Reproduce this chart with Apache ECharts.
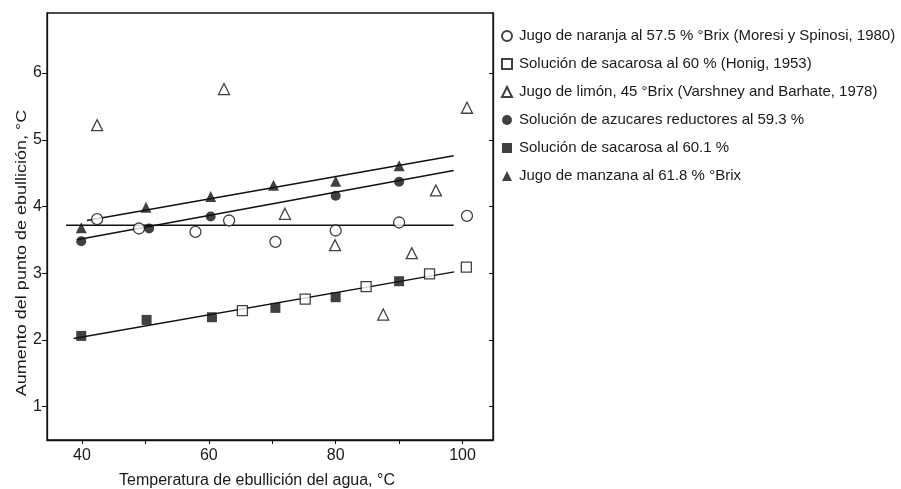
<!DOCTYPE html>
<html>
<head>
<meta charset="utf-8">
<script src="https://cdn.jsdelivr.net/npm/echarts@6/dist/echarts.min.js"></script>
<style>
html,body{margin:0;padding:0;background:#fff;}
#chart{width:901px;height:489px;}
</style>
</head>
<body>
<div id="chart"></div>
<script>
// ---- data ----
const seriesNames = [
  'Jugo de naranja al 57.5 % °Brix (Moresi y Spinosi, 1980)',
  'Solución de sacarosa al 60 % (Honig, 1953)',
  'Jugo de limón, 45 °Brix (Varshney and Barhate, 1978)',
  'Solución de azucares reductores al 59.3 %',
  'Solución de sacarosa al 60.1 %',
  'Jugo de manzana al 61.8 % °Brix'
];
const naranja = [[42.4,3.81],[49,3.67],[57.9,3.62],[63.2,3.79],[70.5,3.47],[80,3.64],[90,3.76],[100.7,3.86]];
const sacarosaHonig = [[65.3,2.44],[75.2,2.61],[84.8,2.80],[94.8,2.99],[100.6,3.09]];
const limon = [[42.4,5.22],[62.4,5.76],[72,3.89],[79.9,3.42],[87.5,2.38],[92,3.30],[95.8,4.24],[100.7,5.48]];
const reductores = [[39.9,3.48],[50.6,3.67],[60.3,3.85],[80,4.16],[90,4.37]];
const sacarosa601 = [[39.9,2.06],[50.2,2.30],[60.5,2.34],[70.5,2.48],[80,2.64],[90,2.88]];
const manzana = [[39.9,3.68],[50.1,3.99],[60.3,4.15],[70.2,4.32],[80,4.38],[90,4.61]];
// fitted lines (end points)
const lineNaranja = [[37.5,3.72],[98.6,3.72]];
const lineReductores = [[39.2,3.50],[98.6,4.54]];
const lineSacarosa = [[38.7,2.02],[98.7,3.02]];
const lineManzana = [[40.8,3.79],[98.6,4.76]];
// ticks
const xTickLabels = [40,60,80,100];
const xTicks = [40,50,60,70,80,90,100];
const yTicks = [1,2,3,4,5,6];

const FONT = 'Liberation Sans, Arial, sans-serif';
const chart = echarts.init(document.getElementById('chart'));

const open = {color:'#ffffff', borderColor:'#111', borderWidth:1.3};
const filled = {color:'#111', borderColor:'#111', borderWidth:0};

function scatter(name, data, symbol, style, size){
  return {type:'scatter', name:name, data:data, symbol:symbol, symbolSize:size,
          itemStyle:style, z:5, silent:true};
}
function fit(data){
  return {type:'line', data:data, showSymbol:false, symbol:'none', silent:true,
          lineStyle:{color:'#111', width:1.5}, z:3};
}

chart.setOption({
  animation:false,
  backgroundColor:'#ffffff',
  grid:{left:47, top:13, width:446, height:427, show:true, borderColor:'#111', borderWidth:1.3, backgroundColor:'transparent'},
  legend:{
    orient:'vertical', left:496, top:23, itemWidth:10, itemHeight:10, itemGap:12,
    selectedMode:false,
    textStyle:{fontFamily:FONT, fontSize:15, color:'#1a1a1a', lineHeight:16, padding:[0,0,0,2]},
    data: seriesNames.map((n,i)=>({name:n, icon:['circle','rect','triangle','circle','rect','triangle'][i]}))
  },
  xAxis:{
    type:'value', min:34.5, max:104.8,
    splitLine:{show:false},
    axisLine:{lineStyle:{color:'#111', width:1.3}},
    axisTick:{show:true, customValues:xTicks, length:4, lineStyle:{color:'#111'}},
    axisLabel:{customValues:xTickLabels, fontFamily:FONT, fontSize:16, color:'#1a1a1a', margin:8}
  },
  yAxis:[{
    type:'value', min:0.5, max:6.9,
    splitLine:{show:false},
    axisLine:{show:true, lineStyle:{color:'#111', width:1.3}},
    axisTick:{show:true, customValues:yTicks, length:5, lineStyle:{color:'#111'}},
    axisLabel:{customValues:yTicks, fontFamily:FONT, fontSize:16, color:'#1a1a1a', margin:5}
  },{
    type:'value', min:0.5, max:6.9, position:'right',
    splitLine:{show:false},
    axisLine:{show:true, lineStyle:{color:'#111', width:1.3}},
    axisTick:{show:true, inside:true, customValues:yTicks, length:4, lineStyle:{color:'#111'}},
    axisLabel:{show:false}
  }],
  graphic:[
    {type:'text', x:257, y:481, style:{text:'Temperatura de ebullición del agua, °C', font:'16px '+FONT, fill:'#1a1a1a', textAlign:'center', textVerticalAlign:'middle'}, silent:true},
    {type:'text', x:22, y:253, rotation:Math.PI/2, scaleX:1.2, style:{text:'Aumento del punto de ebullición, °C', font:'15px '+FONT, fill:'#1a1a1a', textAlign:'center', textVerticalAlign:'middle'}, silent:true}
  ],
  series:[
    fit(lineNaranja), fit(lineReductores), fit(lineSacarosa), fit(lineManzana),
    scatter(seriesNames[0], naranja, 'circle', open, 11),
    scatter(seriesNames[1], sacarosaHonig, 'rect', open, 10),
    scatter(seriesNames[2], limon, 'triangle', open, 11),
    scatter(seriesNames[3], reductores, 'circle', filled, 10),
    scatter(seriesNames[4], sacarosa601, 'rect', filled, 10),
    scatter(seriesNames[5], manzana, 'triangle', filled, 11)
  ]
});
</script>
</body>
</html>
